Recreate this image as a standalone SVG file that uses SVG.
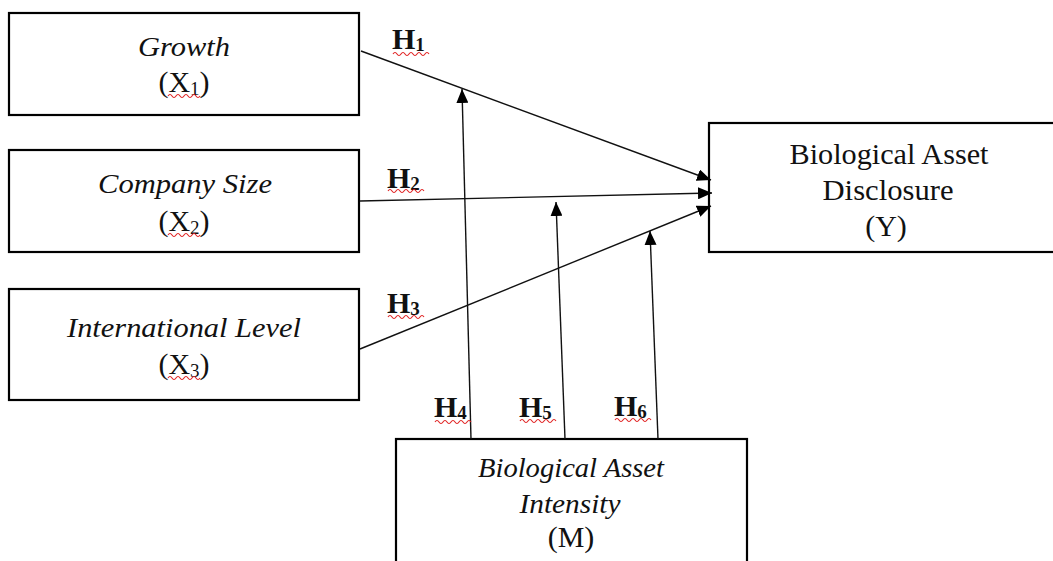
<svg xmlns="http://www.w3.org/2000/svg" width="1053" height="561" viewBox="0 0 1053 561">
<style>
.box{fill:#fff;stroke:#000;stroke-width:2.2}
.t{font-family:"Liberation Serif","Times New Roman",serif;font-size:30px;fill:#111;text-anchor:middle}
.i{font-style:italic;font-size:28px}
.h{font-family:"Liberation Serif","Times New Roman",serif;font-size:30px;font-weight:bold;fill:#111}
.sub{font-size:19px}
.c{stroke:#111;stroke-width:1.4;fill:none;marker-end:url(#ah)}
.sq{stroke:#e02020;stroke-width:1.1;fill:none}
</style>
<defs>
<marker id="ah" markerUnits="userSpaceOnUse" markerWidth="14" markerHeight="12" viewBox="0 0 14 12" refX="14" refY="6" orient="auto">
<path d="M0,0 L14,6 L0,12 z" fill="#000"/>
</marker>
</defs>
<rect width="1053" height="561" fill="#fff"/>
<g id="node-x1">
<rect class="box" x="9" y="13" width="350" height="102"/>
<text class="t i" x="184" y="56" textLength="92" lengthAdjust="spacingAndGlyphs">Growth</text>
<text class="t" x="184" y="92">(X<tspan class="sub" dy="3">1</tspan><tspan dy="-3">)</tspan></text>
<path class="sq" d="M168,96 q2,-3 4,0 t4,0 t4,0 t4,0 t4,0 t4,0 t4,0 t4,0"/>
</g>
<g id="node-x2">
<rect class="box" x="9" y="150" width="350" height="102"/>
<text class="t i" x="185" y="193" textLength="174" lengthAdjust="spacingAndGlyphs">Company Size</text>
<text class="t" x="184" y="231">(X<tspan class="sub" dy="3">2</tspan><tspan dy="-3">)</tspan></text>
<path class="sq" d="M168,235 q2,-3 4,0 t4,0 t4,0 t4,0 t4,0 t4,0 t4,0 t4,0"/>
</g>
<g id="node-x3">
<rect class="box" x="9" y="289" width="350" height="111"/>
<text class="t i" x="184" y="337" textLength="234" lengthAdjust="spacingAndGlyphs">International Level</text>
<text class="t" x="184" y="374">(X<tspan class="sub" dy="3">3</tspan><tspan dy="-3">)</tspan></text>
<path class="sq" d="M168,378 q2,-3 4,0 t4,0 t4,0 t4,0 t4,0 t4,0 t4,0 t4,0"/>
</g>
<g id="node-y">
<rect class="box" x="709" y="123" width="360" height="129"/>
<text class="t" x="889" y="164" textLength="199" lengthAdjust="spacingAndGlyphs">Biological Asset</text>
<text class="t" x="888" y="200" textLength="131" lengthAdjust="spacingAndGlyphs">Disclosure</text>
<text class="t" x="886" y="236">(Y)</text>
</g>
<g id="node-m">
<rect class="box" x="396" y="439" width="351" height="135"/>
<text class="t i" x="571" y="477" textLength="186" lengthAdjust="spacingAndGlyphs">Biological Asset</text>
<text class="t i" x="570" y="513" textLength="101" lengthAdjust="spacingAndGlyphs">Intensity</text>
<text class="t" x="571" y="547">(M)</text>
</g>
<g id="connectors">
<line class="c" x1="361" y1="51" x2="711" y2="180"/>
<line class="c" x1="360" y1="201" x2="712" y2="193"/>
<line class="c" x1="360" y1="349" x2="711" y2="206"/>
<line class="c" x1="471" y1="439" x2="462" y2="89"/>
<line class="c" x1="565" y1="439" x2="556" y2="202"/>
<line class="c" x1="658" y1="439" x2="650" y2="231"/>
</g>
<g id="labels">
<text class="h" x="392" y="49">H<tspan class="sub" dy="2">1</tspan></text>
<path class="sq" d="M393,54 q2,-3 4,0 t4,0 t4,0 t4,0 t4,0 t4,0 t4,0 t4,0 t4,0"/>
<text class="h" x="387" y="188">H<tspan class="sub" dy="2">2</tspan></text>
<path class="sq" d="M388,191 q2,-3 4,0 t4,0 t4,0 t4,0 t4,0 t4,0 t4,0 t4,0 t4,0"/>
<text class="h" x="387" y="313">H<tspan class="sub" dy="2">3</tspan></text>
<path class="sq" d="M388,317 q2,-3 4,0 t4,0 t4,0 t4,0 t4,0 t4,0 t4,0 t4,0 t4,0"/>
<text class="h" x="434" y="417">H<tspan class="sub" dy="2">4</tspan></text>
<path class="sq" d="M435,422 q2,-3 4,0 t4,0 t4,0 t4,0 t4,0 t4,0 t4,0 t4,0 t4,0"/>
<text class="h" x="519" y="417">H<tspan class="sub" dy="2">5</tspan></text>
<path class="sq" d="M520,421 q2,-3 4,0 t4,0 t4,0 t4,0 t4,0 t4,0 t4,0 t4,0 t4,0"/>
<text class="h" x="614" y="416">H<tspan class="sub" dy="2">6</tspan></text>
<path class="sq" d="M615,420 q2,-3 4,0 t4,0 t4,0 t4,0 t4,0 t4,0 t4,0 t4,0 t4,0"/>
</g>
</svg>
